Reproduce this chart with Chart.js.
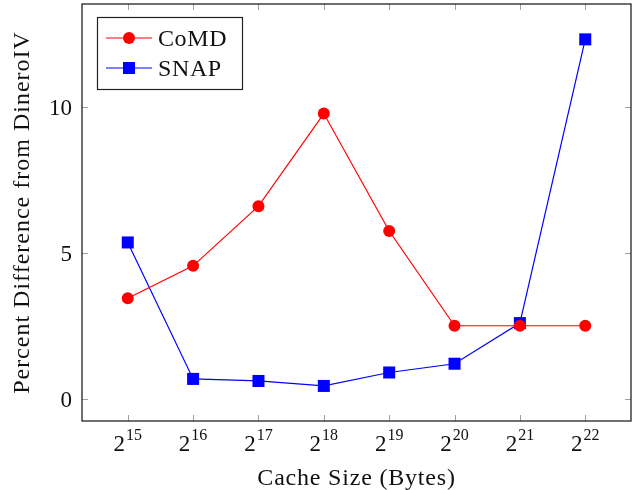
<!DOCTYPE html>
<html>
<head>
<meta charset="utf-8">
<script src="https://cdn.jsdelivr.net/npm/chart.js@4"></script>
<style>
  html, body { margin: 0; padding: 0; background: #fff; }
  #wrap { width: 642px; height: 490px; }
</style>
</head>
<body>
<div id="wrap"><canvas id="chartCache"></canvas></div>
<script>
// cache sizes as powers of two
var exps = [15, 16, 17, 18, 19, 20, 21, 22];
var comd = [3.46, 4.57, 6.61, 9.78, 5.76, 2.52, 2.52, 2.52];
var snap = [5.37, 0.70, 0.63, 0.46, 0.92, 1.22, 2.61, 12.32];
var yTicks = [0, 5, 10];

var serif = '"Liberation Serif", "DejaVu Serif", serif';

function pts(vals) {
    return exps.map(function(e, i) { return {x: e, y: vals[i]}; });
}

// frame, inward ticks, tick labels, axis titles, legend
var decor = {
    id: 'decor',
    afterDraw: function(chart) {
        var ctx = chart.ctx;
        var a = chart.chartArea;
        var xs = chart.scales.x, ys = chart.scales.y;
        ctx.save();

        ctx.strokeStyle = '#a0a0a0';
        ctx.lineWidth = 1;
        ctx.beginPath();
        exps.forEach(function(e) {
            var px = Math.round(xs.getPixelForValue(e)) + 0.5;
            ctx.moveTo(px, a.bottom); ctx.lineTo(px, a.bottom - 6);
            ctx.moveTo(px, a.top); ctx.lineTo(px, a.top + 6);
        });
        yTicks.forEach(function(v) {
            var py = Math.round(ys.getPixelForValue(v)) + 0.5;
            ctx.moveTo(a.left, py); ctx.lineTo(a.left + 6, py);
            ctx.moveTo(a.right, py); ctx.lineTo(a.right - 6, py);
        });
        ctx.stroke();

        ctx.strokeStyle = '#222';
        ctx.lineWidth = 1.3;
        ctx.strokeRect(a.left, a.top, a.right - a.left, a.bottom - a.top);

        ctx.fillStyle = '#111';
        ctx.textBaseline = 'alphabetic';

        // y tick labels
        ctx.font = '23px ' + serif;
        ctx.textAlign = 'right';
        yTicks.forEach(function(v) {
            ctx.fillText(String(v), a.left - 10, ys.getPixelForValue(v) + 8);
        });

        // x tick labels 2^n
        exps.forEach(function(e) {
            var px = xs.getPixelForValue(e);
            ctx.font = '23px ' + serif;
            var wb = ctx.measureText('2').width;
            ctx.font = '16px ' + serif;
            var we = ctx.measureText(String(e)).width;
            var x0 = px - (wb + we + 1) / 2;
            ctx.font = '23px ' + serif;
            ctx.textAlign = 'left';
            ctx.fillText('2', x0, 451);
            ctx.font = '16px ' + serif;
            ctx.fillText(String(e), x0 + wb + 1, 440);
        });

        // axis titles
        ctx.font = '24px ' + serif;
        ctx.letterSpacing = '0.8px';
        ctx.textAlign = 'center';
        ctx.fillText('Cache Size (Bytes)', (a.left + a.right) / 2, 485);
        ctx.save();
        ctx.translate(29, (a.top + a.bottom) / 2);
        ctx.rotate(-Math.PI / 2);
        ctx.letterSpacing = '1px';
        ctx.fillText('Percent Difference from DineroIV', 0, 0);
        ctx.restore();
        ctx.letterSpacing = '0px';

        // legend
        var lx = 97, ly = 17, lw = 145, lh = 72;
        ctx.fillStyle = '#fff';
        ctx.fillRect(lx, ly, lw, lh);
        ctx.strokeStyle = '#222';
        ctx.lineWidth = 1.2;
        ctx.strokeRect(lx + 0.5, ly + 0.5, lw, lh);
        chart.data.datasets.forEach(function(ds, i) {
            var cy = ly + 21 + i * 30;
            ctx.strokeStyle = ds.borderColor;
            ctx.lineWidth = 1.2;
            ctx.beginPath();
            ctx.moveTo(lx + 9, cy); ctx.lineTo(lx + 55, cy);
            ctx.stroke();
            Chart.helpers.drawPoint(ctx, {
                pointStyle: ds.pointStyle, radius: ds.pointRadius,
                borderWidth: 0, rotation: 0
            }, lx + 32, cy);
            ctx.fillStyle = ds.backgroundColor;
            ctx.fill();
            ctx.fillStyle = '#111';
            ctx.font = '24px ' + serif;
            ctx.letterSpacing = '0.6px';
            ctx.textAlign = 'left';
            ctx.textBaseline = 'alphabetic';
            ctx.fillText(ds.label, lx + 61, cy + 8);
        });
        ctx.restore();
    }
};

var chartCache = new Chart(document.getElementById("chartCache"), {
    type: 'line',
    data: {
        datasets: [{
            label: "CoMD",
            data: pts(comd),
            borderColor: '#ff0000',
            backgroundColor: '#ff0000',
            borderWidth: 1.2,
            pointStyle: 'circle',
            pointRadius: 6,
            pointBorderWidth: 0,
            fill: false,
        },
        {
            label: "SNAP",
            data: pts(snap),
            borderColor: '#0000ff',
            backgroundColor: '#0000ff',
            borderWidth: 1.2,
            pointStyle: 'rect',
            pointRadius: 8.5,
            pointBorderWidth: 0,
            fill: false,
        }]
    },
    options: {
        responsive: true,
        maintainAspectRatio: false,
        animation: false,
        layout: { autoPadding: false, padding: { top: 4, right: 11, left: 0, bottom: 0 } },
        plugins: {
            legend: { display: false },
            tooltip: { enabled: false }
        },
        scales: {
            x: {
                type: 'linear',
                min: 14.3,
                max: 22.7,
                afterBuildTicks: function(s) { s.ticks = exps.map(function(e) { return {value: e}; }); },
                afterFit: function(s) { s.height = 69; },
                grid: { display: false, drawTicks: false },
                border: { display: false },
                ticks: { display: false }
            },
            y: {
                min: -0.74,
                max: 13.53,
                afterBuildTicks: function(s) { s.ticks = yTicks.map(function(v) { return {value: v}; }); },
                afterFit: function(s) { s.width = 82; },
                grid: { display: false, drawTicks: false },
                border: { display: false },
                ticks: { display: false }
            }
        }
    },
    plugins: [decor]
});
</script>
</body>
</html>
